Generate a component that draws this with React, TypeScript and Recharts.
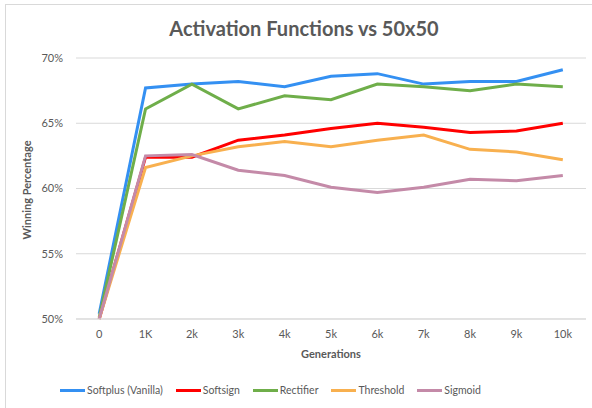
import { CartesianGrid, Line, LineChart, XAxis, YAxis } from "recharts";

const categories = ["0", "1K", "2k", "3k", "4k", "5k", "6k", "7k", "8k", "9k", "10k"];

const softplus = [50.4, 67.7, 68.0, 68.2, 67.8, 68.6, 68.8, 68.0, 68.2, 68.2, 69.1];
const softsign = [50.0, 62.4, 62.4, 63.7, 64.1, 64.6, 65.0, 64.7, 64.3, 64.4, 65.0];
const rectifier = [50.1, 66.1, 68.0, 66.1, 67.1, 66.8, 68.0, 67.8, 67.5, 68.0, 67.8];
const threshold = [50.0, 61.6, 62.5, 63.2, 63.6, 63.2, 63.7, 64.1, 63.0, 62.8, 62.2];
const sigmoid = [50.0, 62.5, 62.6, 61.4, 61.0, 60.1, 59.7, 60.1, 60.7, 60.6, 61.0];

const yTicks = [50, 55, 60, 65, 70];

const seriesList = [
  { key: "softplus", name: "Softplus (Vanilla)", color: "#3490f2", values: softplus },
  { key: "softsign", name: "Softsign", color: "#ff0000", values: softsign },
  { key: "rectifier", name: "Rectifier", color: "#6fae4a", values: rectifier },
  { key: "threshold", name: "Threshold", color: "#f8b04f", values: threshold },
  { key: "sigmoid", name: "Sigmoid", color: "#c48aa8", values: sigmoid },
];

const data = categories.map((label, i) => {
  const row: Record<string, number | string> = { i, label };
  seriesList.forEach((s) => {
    row[s.key] = s.values[i];
  });
  return row;
});

const centerTicks = categories.map((_, i) => i);
const edgeTicks = [...categories.map((_, i) => i - 0.5), categories.length - 0.5];

const FONT = "Lato, 'Open Sans', sans-serif";
const TEXT = "#595959";
const GRID = "#d9d9d9";

function LegendRow() {
  return (
    <div
      style={{
        position: "absolute",
        top: 384,
        left: 60,
        display: "flex",
        alignItems: "center",
        gap: 13,
        fontFamily: FONT,
        fontSize: 10.5,
        color: TEXT,
      }}
    >
      {seriesList.map((s) => (
        <div key={s.key} style={{ display: "flex", alignItems: "center", gap: 2 }}>
          <span style={{ display: "inline-block", width: 25, height: 3, background: s.color }} />
          <span>{s.name}</span>
        </div>
      ))}
    </div>
  );
}

export default function App() {
  return (
    <div
      style={{
        position: "absolute",
        left: 0,
        top: 0,
        width: 592,
        height: 408,
        background: "#fff",
        fontFamily: FONT,
      }}
    >
      <div
        style={{
          position: "absolute",
          left: 5,
          top: 4,
          right: 0,
          bottom: 0,
          borderTop: `1px solid ${GRID}`,
          borderLeft: `1px solid ${GRID}`,
        }}
      />
      <div
        style={{
          position: "absolute",
          left: 0,
          width: 608,
          top: 16,
          textAlign: "center",
          fontSize: 20,
          fontWeight: 700,
          color: TEXT,
        }}
      >
        Activation Functions vs 50x50
      </div>
      <LineChart
        width={592}
        height={408}
        data={data}
        margin={{ top: 58, right: 6, bottom: 49, left: 26 }}
        style={{ position: "absolute", left: 0, top: 0 }}
      >
        <CartesianGrid stroke={GRID} vertical={false} />
        <XAxis
          xAxisId="edge"
          type="number"
          dataKey="i"
          domain={[-0.5, categories.length - 0.5]}
          ticks={edgeTicks}
          tickFormatter={() => ""}
          tickSize={5}
          tickLine={{ stroke: GRID }}
          axisLine={false}
          height={0}
          allowDataOverflow
        />
        <XAxis
          type="number"
          dataKey="i"
          domain={[-0.5, categories.length - 0.5]}
          ticks={centerTicks}
          tickFormatter={(v) => categories[v] ?? ""}
          tickLine={false}
          tickSize={0}
          tickMargin={11}
          axisLine={{ stroke: GRID }}
          tick={{ fill: TEXT, fontSize: 11, fontFamily: FONT }}
          height={40}
          allowDataOverflow
          label={{
            value: "Generations",
            position: "insideBottom",
            offset: 1,
            fill: TEXT,
            fontSize: 11,
            fontWeight: 700,
            fontFamily: FONT,
          }}
        />
        <YAxis
          domain={[50, 70]}
          ticks={yTicks}
          tickFormatter={(v) => `${v}%`}
          axisLine={false}
          tickLine={false}
          tickSize={0}
          tickMargin={13}
          width={50}
          tick={{ fill: TEXT, fontSize: 11, fontFamily: FONT }}
          label={{
            content: () => (
              <text
                x={28}
                y={190}
                transform="rotate(-90 28 190)"
                textAnchor="middle"
                dominantBaseline="middle"
                fill={TEXT}
                fontSize={11}
                fontWeight={700}
                fontFamily={FONT}
              >
                Winning Percentage
              </text>
            ),
          }}
        />
        {seriesList.map((s) => (
          <Line
            key={s.key}
            type="linear"
            dataKey={s.key}
            name={s.name}
            stroke={s.color}
            strokeWidth={3}
            dot={false}
            activeDot={false}
            isAnimationActive={false}
          />
        ))}
      </LineChart>
      <LegendRow />
    </div>
  );
}
